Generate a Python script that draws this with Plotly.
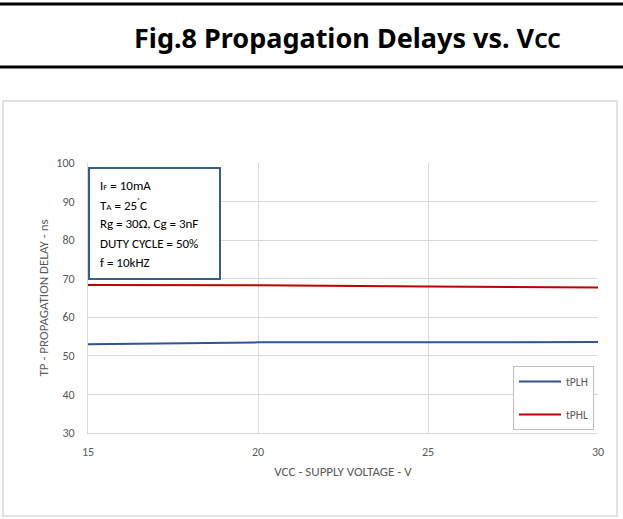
import plotly.graph_objects as go

# Data
vcc = [15, 20, 25, 30]
tplh = [53.0, 53.5, 53.5, 53.6]
tphl = [68.4, 68.3, 68.0, 67.7]

x_ticks = [15, 20, 25, 30]
y_ticks = [30, 40, 50, 60, 70, 80, 90, 100]

conditions = [
    "I<span style='font-size:9px'>F</span> = 10mA",
    "T<span style='font-size:9px'>A</span> = 25<sup style='font-size:7px'>˚</sup>C",
    "Rg = 30Ω, Cg = 3nF",
    "DUTY CYCLE = 50%",
    "f = 10kHZ",
]

blue = "#2f5597"
red = "#c00000"
grid = "#d9d9d9"
tick_color = "#595959"
font_family = "Carlito, Calibri, 'Liberation Sans Narrow', 'Noto Sans', sans-serif"

W, H = 623, 519
L, R, T, B = 88, 598, 163, 433  # plot area in pixels


def px(x):
    return (x - L) / (R - L)


def py(y):
    return (B - y) / (B - T)


fig = go.Figure()
fig.add_trace(go.Scatter(x=vcc, y=tplh, name="tPLH", mode="lines",
                         line=dict(color=blue, width=2), legendgroup="a"))
fig.add_trace(go.Scatter(x=vcc, y=tphl, name="tPHL", mode="lines",
                         line=dict(color=red, width=2), legendgroup="b"))

shapes = [
    # heading rules
    dict(type="line", xref="paper", yref="paper", x0=px(0), x1=px(W), y0=py(4), y1=py(4),
         line=dict(color="black", width=3)),
    dict(type="line", xref="paper", yref="paper", x0=px(0), x1=px(W), y0=py(67), y1=py(67),
         line=dict(color="black", width=3)),
    # chart frame
    dict(type="rect", xref="paper", yref="paper", x0=px(3), x1=px(617), y0=py(101), y1=py(516),
         line=dict(color="#d9d9d9", width=1.5)),
    # conditions box
    dict(type="rect", xref="paper", yref="paper", x0=px(89), x1=px(220), y0=py(168), y1=py(279),
         line=dict(color="#385d8a", width=2), fillcolor="white", layer="above"),
]

annotations = [
    dict(text="<b>Fig.8 Propagation Delays vs. V<span style='font-size:21px'>CC</span></b>",
         xref="paper", yref="paper", x=px(347), y=py(38), showarrow=False,
         font=dict(family="'Noto Sans', sans-serif", size=27, color="black"),
         xanchor="center", yanchor="middle"),
]
for i, line in enumerate(conditions):
    annotations.append(dict(
        text=line, xref="paper", yref="paper", x=px(98), y=py(185 + i * 19.4),
        showarrow=False, xanchor="left", yanchor="middle",
        font=dict(family=font_family, size=13, color="black")))

fig.update_layout(
    width=W, height=H,
    margin=dict(l=L, r=W - R, t=T, b=H - B),
    paper_bgcolor="white", plot_bgcolor="white",
    font=dict(family=font_family, size=12, color=tick_color),
    shapes=shapes, annotations=annotations,
    showlegend=True,
    legend=dict(x=px(513), y=py(366), xanchor="left", yanchor="top",
                bordercolor="#bfbfbf", borderwidth=1, bgcolor="white",
                font=dict(size=11.5, color=tick_color), tracegroupgap=14,
                itemwidth=42),
    xaxis=dict(range=[15, 30], tickvals=x_ticks, showgrid=True, gridcolor=grid,
               gridwidth=1, zeroline=False, showline=True, linecolor=grid,
               mirror=False, ticks="", ticklabelstandoff=8,
               title=dict(text="VCC - SUPPLY VOLTAGE - V", standoff=8,
                          font=dict(size=13, color=tick_color))),
    yaxis=dict(range=[30, 100], tickvals=y_ticks, showgrid=True, gridcolor=grid,
               gridwidth=1, zeroline=False, showline=True, linecolor=grid,
               ticks="", ticklabelstandoff=10,
               title=dict(text="TP - PROPAGATION DELAY - ns", standoff=4,
                          font=dict(size=13, color=tick_color))),
)

# drop the page's default body margin so the figure sits at the window origin
fig.write_html("out.html", config={"displayModeBar": False},
               post_script="document.body.style.margin='0';")
